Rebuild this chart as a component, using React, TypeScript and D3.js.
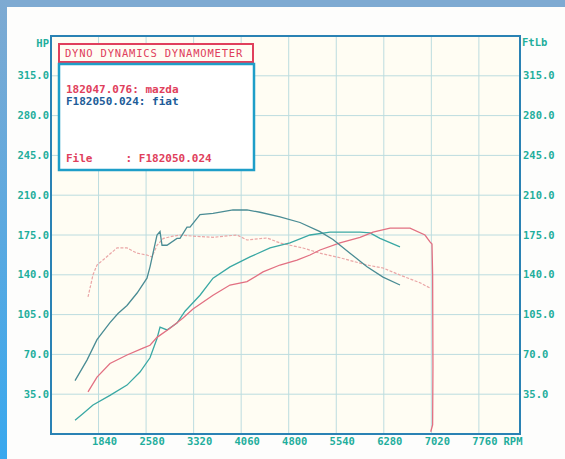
import React from "react";
import * as d3 from "d3";

const yTicks = [35, 70, 105, 140, 175, 210, 245, 280, 315];
const xTicks = [1840, 2580, 3320, 4060, 4800, 5540, 6280, 7020, 7760];

const fiatTqRpm = [1474, 1660, 1816, 2018, 2143, 2283, 2440, 2594, 2641, 2688, 2750, 2797, 2828, 2905, 3061, 3108, 3217, 3264, 3419, 3622, 3933, 4151, 4353, 4664, 4976, 5287, 5489, 5754, 6019, 6268, 6532];
const fiatTq = [47, 65, 83, 98, 106, 113, 124, 137, 147, 159, 175, 178, 166, 166, 172, 172, 182, 182, 193, 194, 197, 197, 195, 191, 186, 178, 171, 159, 147, 138, 131];

const fiatHpRpm = [1474, 1600, 1754, 2018, 2283, 2485, 2641, 2750, 2797, 2905, 3061, 3186, 3419, 3622, 3886, 4197, 4509, 4820, 5131, 5443, 5910, 6065, 6221, 6532];
const fiatHp = [12, 18, 25.5, 34, 43, 54.5, 67, 84, 94, 91.5, 97.6, 108, 122, 137, 147, 155.7, 163.6, 168, 175, 177.6, 177.6, 176.8, 172, 164.5];

const mazdaHpRpm = [1676, 1816, 2018, 2283, 2532, 2641, 2750, 2952, 3155, 3310, 3622, 3886, 4151, 4400, 4664, 4929, 5131, 5287, 5598, 5910, 6112, 6377, 6532, 6688, 6921, 6999, 7030, 7040, 7045, 7040, 7010];
const mazdaHp = [37, 50, 62, 69.5, 75.6, 78, 85, 93, 102, 110, 122, 131, 134, 142.5, 148.6, 153, 157.4, 161.8, 168, 173, 177.6, 181, 181, 181, 175, 169, 167, 140, 60, 8, 2];

const mazdaTqRpm = [1676, 1754, 1816, 1909, 2127, 2283, 2439, 2594, 2672, 2750, 2850, 3000, 3108, 3310, 3622, 3995, 4151, 4462, 4664, 4820, 5022, 5287, 5598, 6019, 6268, 6532, 6843, 6999];
const mazdaTq = [120.5, 140, 148.6, 153, 163.6, 163.6, 159, 157.4, 155.7, 166, 172, 174, 175, 174, 173, 175, 170.6, 172.4, 168, 166, 163.6, 159, 155, 148.6, 146, 139.8, 133, 128.4];

const legendTitle = "DYNO DYNAMICS DYNAMOMETER";
const legendLines = ["182047.076: mazda", "F182050.024: fiat"];
const fileLine = "File     : F182050.024";

const W = 565;
const H = 459;
const L = 51, R = 520, T = 36, B = 434;

const x = d3.scaleLinear().domain([1100, 8400]).range([L, R]);
const y = d3.scaleLinear().domain([0, 350]).range([B, T]);

const lineGen = d3
  .line<[number, number]>()
  .x((d) => x(d[0]))
  .y((d) => y(d[1]));

const zip = (a: number[], b: number[]): [number, number][] => a.map((v, i) => [v, b[i]]);

const font = "'DejaVu Sans Mono', 'Liberation Mono', monospace";
const tickColor = "#1fae9c";

export default function App() {
  return (
    <svg
      width={W}
      height={H}
      style={{ position: "absolute", left: 0, top: 0, display: "block" }}
    >
      <defs>
        <linearGradient id="leftStrip" x1="0" y1="0" x2="0" y2="1">
          <stop offset="0" stopColor="#7eaad2" />
          <stop offset="1" stopColor="#38a8ee" />
        </linearGradient>
      </defs>
      <rect x={0} y={0} width={W} height={H} fill="#fdfdfc" />
      <rect x={0} y={0} width={W} height={7} fill="#7eaad2" />
      <rect x={0} y={0} width={7} height={H} fill="url(#leftStrip)" />

      <rect x={L} y={T} width={R - L} height={B - T} fill="#fffdf3" />

      {yTicks.map((t) => (
        <line key={"hy" + t} x1={L} x2={R} y1={y(t)} y2={y(t)} stroke="#bcdcdf" strokeWidth={1} />
      ))}
      {xTicks.map((t) => (
        <line key={"vx" + t} x1={x(t)} x2={x(t)} y1={T} y2={B} stroke="#bcdcdf" strokeWidth={1} />
      ))}

      <path d={lineGen(zip(mazdaTqRpm, mazdaTq)) || ""} fill="none" stroke="#eaa6a6" strokeWidth={1.2} strokeDasharray="3,1.5" />
      <path d={lineGen(zip(fiatHpRpm, fiatHp)) || ""} fill="none" stroke="#3aa8a4" strokeWidth={1.3} />
      <path d={lineGen(zip(mazdaHpRpm, mazdaHp)) || ""} fill="none" stroke="#e27082" strokeWidth={1.3} />
      <path d={lineGen(zip(fiatTqRpm, fiatTq)) || ""} fill="none" stroke="#4a8c94" strokeWidth={1.3} />

      <rect x={L} y={T} width={R - L} height={B - T} fill="none" stroke="#2a82b4" strokeWidth={2} />

      {yTicks.map((t) => (
        <text key={"ly" + t} x={49} y={y(t)} dy="0.35em" textAnchor="end" fontFamily={font} fontWeight="bold" fontSize={10.5} fill={tickColor}>
          {t.toFixed(1)}
        </text>
      ))}
      {yTicks.map((t) => (
        <text key={"ry" + t} x={523} y={y(t)} dy="0.35em" textAnchor="start" fontFamily={font} fontWeight="bold" fontSize={10.5} fill={tickColor}>
          {t.toFixed(1)}
        </text>
      ))}
      <text x={49} y={43} dy="0.35em" textAnchor="end" fontFamily={font} fontWeight="bold" fontSize={10.5} fill={tickColor}>HP</text>
      <text x={522} y={42} dy="0.35em" textAnchor="start" fontFamily={font} fontWeight="bold" fontSize={10.5} fill={tickColor}>FtLb</text>

      {xTicks.map((t) => (
        <text key={"lx" + t} x={x(t) + 6} y={441} dy="0.35em" textAnchor="middle" fontFamily={font} fontWeight="bold" fontSize={10.5} fill={tickColor}>
          {t}
        </text>
      ))}
      <text x={513} y={441} dy="0.35em" textAnchor="middle" fontFamily={font} fontWeight="bold" fontSize={10.5} fill={tickColor}>RPM</text>

      <rect x={59} y={44} width={194} height={18} fill="#fffdf3" stroke="#e0405c" strokeWidth={2} />
      <text x={154} y={53} dy="0.35em" textAnchor="middle" fontFamily={font} fontSize={10.5} fill="#e0405c" letterSpacing={0.8}>
        {legendTitle}
      </text>
      <rect x={59} y={64} width={195} height={106} fill="#ffffff" stroke="#1e9ec8" strokeWidth={2.5} />
      <text x={66} y={89} dy="0.35em" fontFamily={font} fontWeight="bold" fontSize={11} fill="#e0405c">{legendLines[0]}</text>
      <text x={66} y={101} dy="0.35em" fontFamily={font} fontWeight="bold" fontSize={11} fill="#205c98">{legendLines[1]}</text>
      <text x={66} y={158} dy="0.35em" fontFamily={font} fontWeight="bold" fontSize={11} fill="#e0405c" xmlSpace="preserve" style={{ whiteSpace: "pre" }}>{fileLine}</text>
    </svg>
  );
}
